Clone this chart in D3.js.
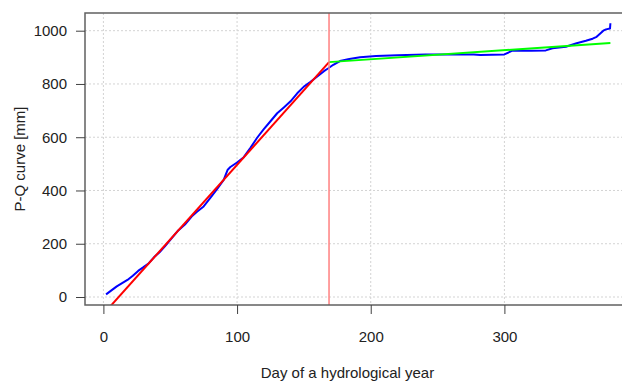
<!DOCTYPE html>
<html><head><meta charset="utf-8">
<script src="https://cdn.jsdelivr.net/npm/d3@7"></script>
<style>body{margin:0;background:#fff}svg{display:block;font-family:"Liberation Sans",Arial,sans-serif}</style>
</head><body>
<svg id="c" width="622" height="381"></svg>
<script>
const xTicks = [0, 100, 200, 300];
const yTicks = [0, 200, 400, 600, 800, 1000];
const xTitle = "Day of a hydrological year";
const yTitle = "P-Q curve [mm]";

const blueDays = [2,6,10,14,18,22,26,30,34,38,42,46,51,56,61,66,70,75,80,85,90,93,95,100,105,110,115,120,125,130,135,140,145,150,155,160,165,168,172,177,184,192,204,220,241,260,277,282,300,306,320,331,336,346,354,361,366,369,374,376,379,379.3];
const blueVals = [10,25,40,52,64,80,98,112,127,150,168,190,220,250,272,302,320,340,372,405,440,478,488,505,525,560,598,630,660,690,712,735,765,790,808,828,848,858,872,886,894,900,905,908,911,911,911,909,911,925,925,926,934,940,953,962,970,977,1000,1005,1008,1028];

const redDays = [0, 168.8];
const redVals = [-64, 882];
const greenDays = [168.8, 379.3];
const greenVals = [882, 954];
const breakDay = [168.8];

const svg = d3.select("#c");
const x = d3.scaleLinear().domain([0, 300]).range([103.4, 504.4]);
const y = d3.scaleLinear().domain([0, 1000]).range([297, 30.7]);
const L = 85, T = 13, R = 640, B = 305;

svg.append("defs").append("clipPath").attr("id","clip")
  .append("rect").attr("x",L).attr("y",T).attr("width",R-L).attr("height",B-T);

const g = svg.append("g");
g.selectAll(".gx").data(xTicks).enter().append("line")
  .attr("x1",d=>x(d)).attr("x2",d=>x(d)).attr("y1",T).attr("y2",B)
  .attr("stroke","#d3d3d3").attr("stroke-dasharray","2,2");
g.selectAll(".gy").data(yTicks).enter().append("line")
  .attr("x1",L).attr("x2",R).attr("y1",d=>y(d)).attr("y2",d=>y(d))
  .attr("stroke","#d3d3d3").attr("stroke-dasharray","2,2");

const plot = svg.append("g").attr("clip-path","url(#clip)");
const line = d3.line().x(d=>x(d[0])).y(d=>y(d[1]));
plot.append("path").datum(blueDays.map((d,i)=>[d,blueVals[i]]))
  .attr("d", line).attr("fill","none").attr("stroke","#0000ff").attr("stroke-width",2).attr("stroke-linejoin","round");
plot.append("path").datum(redDays.map((d,i)=>[d,redVals[i]]))
  .attr("d", line).attr("fill","none").attr("stroke","#ff0000").attr("stroke-width",2);
plot.append("path").datum(greenDays.map((d,i)=>[d,greenVals[i]]))
  .attr("d", line).attr("fill","none").attr("stroke","#00ff00").attr("stroke-width",2);
plot.selectAll(".vl").data(breakDay).enter().append("line")
  .attr("x1",d=>x(d)).attr("x2",d=>x(d)).attr("y1",T).attr("y2",B)
  .attr("stroke","#ff8080").attr("stroke-width",1.5);

svg.append("rect").attr("x",L).attr("y",T).attr("width",R-L).attr("height",B-T)
  .attr("fill","none").attr("stroke","#606060").attr("stroke-width",1.5);

const xAxis = svg.append("g").attr("transform",`translate(0,${B})`)
  .call(d3.axisBottom(x).tickValues(xTicks).tickSize(9).tickPadding(17).tickFormat(d3.format("d")));
const yAxis = svg.append("g").attr("transform",`translate(${L},0)`)
  .call(d3.axisLeft(y).tickValues(yTicks).tickSize(9).tickPadding(9).tickFormat(d3.format("d")));
[xAxis, yAxis].forEach(a=>{
  a.select(".domain").remove();
  a.selectAll(".tick line").attr("stroke","#404040");
  a.selectAll("text").attr("font-size","15px").attr("fill","#222").attr("font-family","Liberation Sans, Arial, sans-serif");
});

svg.append("text").attr("x",(L+610)/2).attr("y",378).attr("text-anchor","middle")
  .attr("font-size","15px").attr("fill","#222").text(xTitle);
svg.append("text").attr("transform",`translate(25,${(T+B)/2}) rotate(-90)`).attr("text-anchor","middle")
  .attr("font-size","15px").attr("fill","#222").text(yTitle);
</script>
</body></html>
